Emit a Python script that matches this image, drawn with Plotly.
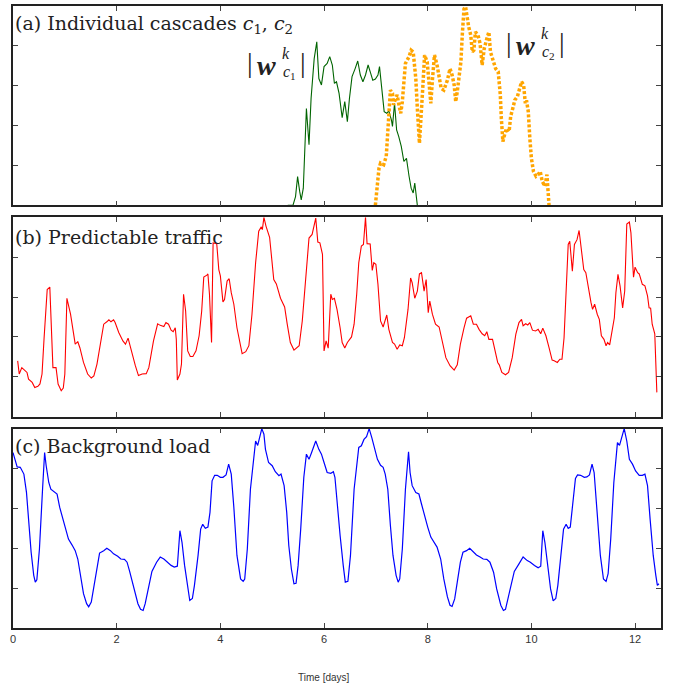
import plotly.graph_objects as go
from plotly.subplots import make_subplots

# ---- data (time in days, value in panel units 0..5) ----
cascade_c1 = [
    (5.30, 0.00), (5.40, 0.00), (5.45, 0.22), (5.49, 0.72), (5.53, 0.35), (5.56, 0.14), (5.60, 0.43),
    (5.66, 2.43), (5.71, 1.52), (5.75, 2.68), (5.81, 3.68), (5.86, 4.10), (5.90, 3.18), (5.95, 3.02),
    (6.00, 3.48), (6.06, 3.56), (6.11, 3.73), (6.16, 3.52), (6.20, 3.06), (6.24, 3.10), (6.29, 2.81),
    (6.35, 2.20), (6.40, 2.60), (6.45, 2.10), (6.49, 2.68), (6.54, 3.23), (6.60, 3.43), (6.65, 3.62),
    (6.70, 3.27), (6.75, 3.10), (6.80, 3.27), (6.85, 3.52), (6.90, 3.31), (6.94, 3.14), (6.99, 3.17),
    (7.04, 3.27), (7.07, 3.48), (7.12, 2.77), (7.16, 2.35), (7.21, 2.31), (7.25, 2.37), (7.30, 2.14),
    (7.32, 1.98), (7.36, 2.56), (7.40, 1.89), (7.44, 1.73), (7.49, 1.48), (7.54, 1.10), (7.59, 1.18),
    (7.64, 0.73), (7.68, 0.43), (7.72, 0.31), (7.75, 0.56), (7.80, 0.00),
]

cascade_c2 = [
    (6.99, 0.00), (7.02, 0.43), (7.06, 0.93), (7.09, 1.06), (7.15, 1.02), (7.20, 1.23), (7.23, 1.77),
    (7.26, 2.27), (7.28, 2.89), (7.32, 2.81), (7.34, 2.52), (7.38, 2.68), (7.41, 2.77), (7.45, 2.48),
    (7.48, 2.31), (7.51, 2.60), (7.54, 3.10), (7.57, 3.56), (7.64, 3.73), (7.68, 3.89), (7.72, 3.85),
    (7.77, 3.18), (7.80, 2.43), (7.84, 1.56), (7.90, 2.85), (7.94, 3.77), (7.99, 3.60), (8.02, 3.02),
    (8.06, 2.56), (8.09, 3.14), (8.13, 3.77), (8.18, 3.52), (8.22, 3.23), (8.26, 2.93), (8.31, 2.89),
    (8.38, 3.14), (8.43, 3.43), (8.47, 3.27), (8.51, 3.02), (8.54, 2.60), (8.57, 2.85), (8.60, 3.18),
    (8.64, 3.60), (8.67, 4.35), (8.70, 4.93), (8.73, 4.98), (8.76, 4.68), (8.79, 4.48), (8.83, 4.27),
    (8.86, 3.85), (8.89, 3.89), (8.92, 4.35), (8.97, 4.27), (9.01, 4.06), (9.05, 3.52), (9.09, 3.93),
    (9.14, 4.18), (9.18, 4.35), (9.21, 3.85), (9.27, 3.56), (9.31, 3.43), (9.36, 3.35), (9.40, 2.77),
    (9.42, 2.18), (9.45, 1.60), (9.49, 1.81), (9.52, 1.93), (9.57, 1.85), (9.60, 2.23), (9.64, 2.43),
    (9.68, 2.64), (9.73, 2.73), (9.76, 2.89), (9.81, 3.10), (9.85, 3.02), (9.88, 2.60), (9.91, 2.60),
    (9.94, 2.35), (9.97, 1.68), (10.00, 1.18), (10.04, 0.85), (10.09, 0.73), (10.13, 0.77), (10.17, 0.85),
    (10.21, 0.60), (10.26, 0.48), (10.30, 0.77), (10.32, 0.43), (10.34, 0.00),
]

predictable_traffic = [
    (0.09, 1.40), (0.12, 1.07), (0.17, 1.23), (0.24, 1.15), (0.27, 1.11), (0.30, 0.94), (0.37, 0.86),
    (0.42, 0.73), (0.48, 0.76), (0.52, 0.82), (0.56, 1.07), (0.60, 1.98), (0.66, 3.19), (0.71, 3.25),
    (0.73, 2.65), (0.77, 1.23), (0.83, 1.23), (0.87, 0.82), (0.93, 0.65), (0.97, 0.72), (1.00, 1.07),
    (1.04, 2.97), (1.11, 2.57), (1.16, 2.11), (1.20, 1.82), (1.25, 1.88), (1.29, 1.73), (1.36, 1.36),
    (1.44, 1.07), (1.51, 0.97), (1.56, 1.02), (1.62, 1.32), (1.69, 1.82), (1.75, 2.32), (1.81, 2.38),
    (1.85, 2.43), (1.89, 2.38), (1.94, 2.43), (1.97, 2.36), (2.04, 2.11), (2.12, 1.90), (2.17, 1.82),
    (2.22, 1.97), (2.28, 1.65), (2.36, 1.28), (2.42, 1.03), (2.49, 1.07), (2.57, 1.08), (2.62, 1.23),
    (2.71, 1.90), (2.79, 2.33), (2.84, 2.29), (2.91, 2.26), (2.95, 2.36), (3.00, 2.32), (3.05, 2.17),
    (3.09, 2.13), (3.13, 2.23), (3.15, 1.94), (3.17, 0.92), (3.22, 1.07), (3.25, 1.32), (3.29, 3.07),
    (3.33, 2.65), (3.37, 1.65), (3.42, 1.51), (3.47, 1.51), (3.53, 1.65), (3.59, 2.03), (3.64, 2.65),
    (3.68, 3.50), (3.74, 3.55), (3.76, 3.58), (3.79, 3.07), (3.83, 1.86), (3.86, 4.36), (3.93, 4.34),
    (3.97, 3.69), (4.00, 3.53), (4.05, 2.88), (4.08, 2.94), (4.13, 3.40), (4.17, 3.46), (4.21, 3.11),
    (4.26, 2.82), (4.32, 2.23), (4.38, 1.86), (4.42, 1.58), (4.49, 1.63), (4.55, 1.78), (4.61, 2.57),
    (4.68, 3.86), (4.74, 4.65), (4.79, 4.76), (4.81, 4.69), (4.84, 5.00), (4.88, 4.78), (4.95, 4.50),
    (5.03, 3.44), (5.08, 3.33), (5.16, 2.97), (5.24, 2.75), (5.29, 2.32), (5.35, 1.86), (5.42, 1.67),
    (5.47, 1.73), (5.52, 1.78), (5.58, 2.40), (5.64, 3.40), (5.71, 4.48), (5.77, 4.57), (5.80, 4.73),
    (5.84, 4.98), (5.88, 4.38), (5.92, 4.36), (5.97, 4.07), (6.00, 1.65), (6.04, 1.90), (6.08, 1.72),
    (6.13, 3.07), (6.16, 2.94), (6.20, 2.97), (6.25, 2.69), (6.31, 2.23), (6.35, 1.86), (6.40, 1.72),
    (6.45, 1.86), (6.53, 2.00), (6.58, 2.32), (6.63, 3.07), (6.67, 3.86), (6.72, 4.28), (6.76, 4.32),
    (6.80, 5.00), (6.83, 4.34), (6.89, 4.33), (6.93, 3.67), (6.96, 3.86), (7.00, 3.82), (7.04, 3.32),
    (7.09, 2.40), (7.14, 2.25), (7.17, 2.40), (7.21, 2.55), (7.25, 2.19), (7.32, 1.86), (7.36, 1.82),
    (7.41, 1.69), (7.46, 1.80), (7.51, 1.78), (7.55, 1.98), (7.62, 2.69), (7.67, 3.48), (7.70, 3.36),
    (7.75, 2.97), (7.80, 3.15), (7.84, 3.58), (7.88, 3.61), (7.93, 3.15), (7.97, 3.44), (8.01, 2.61),
    (8.04, 2.90), (8.09, 2.57), (8.15, 2.32), (8.22, 2.25), (8.28, 1.86), (8.35, 1.48), (8.43, 1.28),
    (8.51, 1.17), (8.57, 1.30), (8.63, 1.82), (8.70, 2.23), (8.75, 2.47), (8.83, 2.53), (8.88, 2.32),
    (8.94, 2.32), (8.99, 2.19), (9.05, 2.08), (9.10, 2.03), (9.14, 2.13), (9.18, 1.94), (9.25, 1.94),
    (9.29, 1.72), (9.35, 1.36), (9.38, 1.30), (9.43, 1.11), (9.50, 1.05), (9.56, 1.11), (9.63, 1.48),
    (9.70, 2.07), (9.76, 2.36), (9.81, 2.44), (9.84, 2.28), (9.89, 2.33), (9.93, 2.30), (9.97, 2.36),
    (10.02, 2.17), (10.08, 2.15), (10.13, 2.19), (10.18, 2.08), (10.22, 2.22), (10.28, 2.03), (10.34, 1.73),
    (10.40, 1.42), (10.44, 1.40), (10.50, 1.36), (10.55, 1.44), (10.59, 1.44), (10.63, 1.98), (10.66, 2.90),
    (10.71, 4.32), (10.74, 4.40), (10.79, 3.65), (10.83, 4.32), (10.88, 4.44), (10.92, 4.67), (10.97, 4.15),
    (11.01, 3.69), (11.05, 3.61), (11.10, 3.19), (11.15, 2.86), (11.18, 2.69), (11.22, 2.82), (11.27, 2.57),
    (11.31, 2.44), (11.35, 2.03), (11.40, 1.94), (11.44, 1.78), (11.47, 1.86), (11.51, 1.80), (11.55, 2.07),
    (11.60, 2.48), (11.63, 3.11), (11.67, 3.57), (11.71, 3.28), (11.76, 2.73), (11.80, 3.15), (11.84, 4.83),
    (11.89, 4.88), (11.92, 4.61), (11.97, 3.50), (12.00, 3.75), (12.05, 3.61), (12.08, 3.58), (12.14, 3.32),
    (12.19, 3.28), (12.24, 3.03), (12.27, 2.73), (12.30, 2.72), (12.33, 2.32), (12.38, 2.08), (12.42, 0.61),
]

background_load = [
    (0.00, 4.40), (0.05, 4.15), (0.08, 4.04), (0.14, 4.03), (0.21, 3.86), (0.26, 3.40), (0.30, 2.65),
    (0.35, 1.90), (0.40, 1.32), (0.43, 1.15), (0.46, 1.21), (0.51, 1.98), (0.57, 3.48), (0.61, 4.40),
    (0.64, 4.07), (0.69, 3.65), (0.73, 3.48), (0.80, 3.40), (0.85, 3.36), (0.90, 3.03), (0.95, 2.78),
    (1.01, 2.48), (1.07, 2.23), (1.14, 2.08), (1.20, 1.94), (1.25, 1.73), (1.30, 1.32), (1.36, 0.86),
    (1.42, 0.61), (1.46, 0.53), (1.51, 0.65), (1.56, 1.07), (1.62, 1.57), (1.67, 1.88), (1.75, 1.94),
    (1.81, 2.00), (1.88, 1.94), (1.94, 1.86), (2.02, 1.80), (2.08, 1.73), (2.15, 1.72), (2.20, 1.65),
    (2.25, 1.42), (2.33, 0.98), (2.41, 0.61), (2.46, 0.47), (2.51, 0.44), (2.55, 0.61), (2.62, 1.07),
    (2.68, 1.42), (2.77, 1.65), (2.84, 1.78), (2.91, 1.73), (2.97, 1.65), (3.05, 1.57), (3.11, 1.53),
    (3.17, 1.55), (3.22, 2.44), (3.26, 2.15), (3.31, 1.57), (3.36, 1.07), (3.41, 0.69), (3.46, 0.74),
    (3.50, 1.07), (3.57, 1.82), (3.62, 2.48), (3.66, 2.60), (3.71, 2.50), (3.76, 2.53), (3.80, 2.90),
    (3.84, 3.69), (3.89, 3.83), (3.94, 3.83), (4.00, 3.78), (4.05, 3.78), (4.11, 3.84), (4.16, 4.11),
    (4.21, 3.86), (4.26, 3.03), (4.32, 1.82), (4.39, 1.23), (4.44, 1.17), (4.47, 1.23), (4.52, 1.98),
    (4.58, 3.48), (4.65, 4.44), (4.68, 4.69), (4.72, 4.58), (4.76, 4.78), (4.80, 5.00), (4.84, 4.86),
    (4.87, 4.48), (4.93, 4.15), (5.00, 4.07), (5.06, 3.92), (5.13, 3.82), (5.17, 3.86), (5.23, 3.57),
    (5.28, 2.90), (5.32, 2.07), (5.37, 1.48), (5.42, 1.11), (5.46, 1.12), (5.50, 1.57), (5.55, 2.48),
    (5.61, 3.78), (5.66, 4.36), (5.71, 4.23), (5.76, 4.40), (5.84, 4.69), (5.90, 4.48), (5.95, 4.36),
    (6.00, 4.15), (6.06, 3.90), (6.13, 3.88), (6.18, 3.92), (6.21, 3.78), (6.25, 3.15), (6.31, 2.32),
    (6.37, 1.57), (6.41, 1.15), (6.46, 1.17), (6.51, 1.82), (6.58, 3.48), (6.63, 4.15), (6.67, 4.53),
    (6.72, 4.57), (6.77, 4.73), (6.82, 4.80), (6.87, 5.00), (6.92, 4.78), (6.97, 4.53), (7.03, 4.23),
    (7.09, 4.08), (7.14, 4.03), (7.18, 3.86), (7.23, 3.48), (7.28, 2.57), (7.33, 1.82), (7.39, 1.32),
    (7.43, 1.15), (7.46, 1.23), (7.51, 1.98), (7.57, 3.48), (7.63, 4.42), (7.66, 3.90), (7.70, 3.57),
    (7.77, 3.40), (7.83, 3.36), (7.88, 3.11), (7.94, 2.78), (8.00, 2.53), (8.06, 2.28), (8.12, 2.17),
    (8.18, 2.03), (8.25, 1.73), (8.31, 1.23), (8.38, 0.78), (8.43, 0.57), (8.47, 0.54), (8.52, 0.73),
    (8.57, 1.15), (8.63, 1.65), (8.68, 1.90), (8.75, 1.94), (8.81, 2.00), (8.88, 1.92), (8.94, 1.83),
    (9.01, 1.78), (9.07, 1.73), (9.14, 1.72), (9.20, 1.65), (9.27, 1.40), (9.33, 0.98), (9.41, 0.57),
    (9.46, 0.44), (9.50, 0.47), (9.55, 0.73), (9.62, 1.15), (9.67, 1.42), (9.76, 1.61), (9.84, 1.78),
    (9.92, 1.69), (9.98, 1.65), (10.06, 1.57), (10.13, 1.51), (10.18, 1.55), (10.22, 2.44), (10.26, 2.15),
    (10.31, 1.57), (10.37, 0.98), (10.42, 0.68), (10.47, 0.74), (10.51, 1.07), (10.57, 1.82), (10.62, 2.48),
    (10.67, 2.60), (10.71, 2.50), (10.75, 2.53), (10.79, 2.98), (10.85, 3.75), (10.89, 3.84), (10.95, 3.83),
    (11.02, 3.78), (11.07, 3.79), (11.12, 3.84), (11.17, 4.11), (11.21, 3.90), (11.26, 3.07), (11.33, 1.82),
    (11.39, 1.23), (11.44, 1.17), (11.48, 1.36), (11.53, 2.23), (11.59, 3.65), (11.66, 4.65), (11.70, 4.58),
    (11.74, 4.78), (11.79, 5.00), (11.84, 4.69), (11.89, 4.23), (11.95, 4.11), (12.01, 3.94), (12.08, 3.83),
    (12.14, 3.83), (12.19, 3.86), (12.24, 3.57), (12.29, 2.73), (12.35, 1.82), (12.40, 1.32), (12.43, 1.07),
    (12.46, 1.11),
]

x_ticks = [0, 2, 4, 6, 8, 10, 12]
y_ticks = [1, 2, 3, 4]
panel_titles = ["(a) Individual cascades <i>c</i><sub>1</sub>, <i>c</i><sub>2</sub>",
                "(b) Predictable traffic",
                "(c) Background load"]
x_title = "Time [days]"


def split(points):
    return [p[0] for p in points], [p[1] for p in points]


# ---- figure ----
W, H = 673, 690
ML, MR, MT, MB = 13, 12, 4, 62
PH = H - MT - MB  # plot height in px


def py(px_y):
    return (H - MB - px_y) / PH


def px(px_x):
    return (px_x - ML) / (W - ML - MR)


fig = make_subplots(rows=3, cols=1, shared_xaxes=False, vertical_spacing=0.02)

x1, y1 = split(cascade_c1)
x2, y2 = split(cascade_c2)
xb, yb = split(predictable_traffic)
xc, yc = split(background_load)

fig.add_trace(go.Scatter(x=x1, y=y1, mode="lines", line=dict(color="#006400", width=1.1),
                         showlegend=False), row=1, col=1)
fig.add_trace(go.Scatter(x=x2, y=y2, mode="lines", line=dict(color="#FFA500", width=3.5, dash="3px,2px"),
                         showlegend=False), row=1, col=1)
fig.add_trace(go.Scatter(x=xb, y=yb, mode="lines", line=dict(color="#FF0000", width=1.1),
                         showlegend=False), row=2, col=1)
fig.add_trace(go.Scatter(x=xc, y=yc, mode="lines", line=dict(color="#0000FF", width=1.2),
                         showlegend=False), row=3, col=1)

domains = [(py(204), 1.0), (py(416), py(216)), (0.0, py(428))]

axis_common = dict(showline=True, linecolor="#222222", linewidth=1.5, mirror="ticks",
                   ticks="inside", ticklen=5, tickwidth=1, tickcolor="#444444",
                   showgrid=False, zeroline=False)

for i in range(3):
    suffix = "" if i == 0 else str(i + 1)
    fig.layout["xaxis" + suffix].update(
        range=[0, 12.5], tickvals=x_ticks, showticklabels=(i == 2),
        tickfont=dict(family="Liberation Sans, Arial, sans-serif", size=11, color="#333333"),
        **axis_common)
    fig.layout["yaxis" + suffix].update(
        range=[0, 5], domain=list(domains[i]), tickvals=y_ticks, showticklabels=False,
        **axis_common)

label_font = dict(family="DejaVu Serif, serif", size=19, color="#222222")
label_y = [py(23), py(236), py(445)]
for t, yy in zip(panel_titles, label_y):
    fig.add_annotation(text=t, x=px(13), y=yy, xref="paper", yref="paper",
                       xanchor="left", yanchor="middle", showarrow=False, font=label_font)

# math labels |w^k_c| built from pieces so that k and c_i stack
big = dict(family="Liberation Serif, Times New Roman, serif", size=28, color="#222222")
small = dict(family="Liberation Serif, Times New Roman, serif", size=16, color="#222222")
math_labels = [
    # (left bar x, y-center, index)
    (250, 61, "1"),
    (509, 41, "2"),
]
for xl, yc0, idx in math_labels:
    pieces = [
        ("|", xl, yc0, big),
        ("<b><i>w</i></b>", xl + 16, yc0 + 3, big),
        ("<i>k</i>", xl + 36, yc0 - 9, small),
        ("<i>c</i><sub>" + idx + "</sub>", xl + 39, yc0 + 10, small),
        ("|", xl + 53, yc0, big),
    ]
    for txt, xx, yy, f in pieces:
        fig.add_annotation(text=txt, x=px(xx), y=py(yy), xref="paper", yref="paper",
                           xanchor="center", yanchor="middle", showarrow=False, font=f)

fig.add_annotation(text=x_title, x=px(324), y=py(678), xref="paper", yref="paper",
                   showarrow=False, xanchor="center", yanchor="middle",
                   font=dict(family="Liberation Sans, Arial, sans-serif", size=10, color="#333333"))

fig.update_layout(width=W, height=H, margin=dict(l=ML, r=MR, t=MT, b=MB),
                  paper_bgcolor="white", plot_bgcolor="white", showlegend=False)

fig.write_html("out.html", config={"displayModeBar": False},
               post_script="document.body.style.margin='0px';document.body.style.padding='0px';")
